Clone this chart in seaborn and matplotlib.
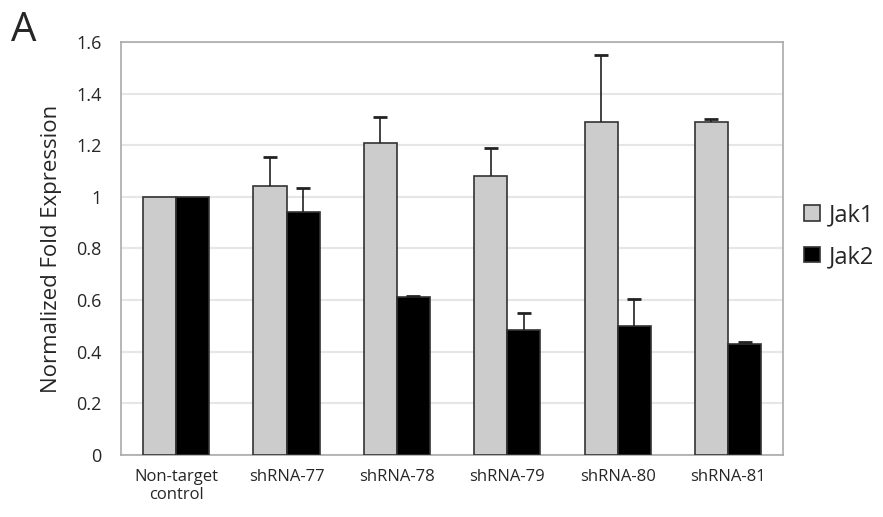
import pandas as pd
import matplotlib
matplotlib.use('Agg')
import matplotlib.pyplot as plt
import seaborn as sns

# Data
groups = ['Non-target\ncontrol', 'shRNA-77', 'shRNA-78', 'shRNA-79', 'shRNA-80', 'shRNA-81']
jak1 = [1.00, 1.04, 1.21, 1.08, 1.29, 1.29]
jak1_err = [0.0, 0.115, 0.10, 0.11, 0.26, 0.01]
jak2 = [1.00, 0.94, 0.61, 0.485, 0.50, 0.43]
jak2_err = [0.0, 0.095, 0.006, 0.065, 0.105, 0.008]

df = pd.DataFrame({
    'group': groups * 2,
    'gene': ['Jak1'] * len(groups) + ['Jak2'] * len(groups),
    'value': jak1 + jak2,
    'err': jak1_err + jak2_err,
})

sns.set_style('white')
plt.rcParams['font.family'] = ['Open Sans', 'DejaVu Sans']

fig = plt.figure(figsize=(8.83, 5.17), dpi=100)
ax = fig.add_axes([0.137, 0.12, 0.75, 0.799])

sns.barplot(data=df, x='group', y='value', hue='gene', palette={'Jak1': '#cccccc', 'Jak2': '#000000'},
            width=0.6, edgecolor='#333333', linewidth=1.2, errorbar=None, ax=ax, zorder=3)

# one-sided error bars on top of each bar (upper cap only)
bars = [p for p in ax.patches if p.get_height() > 0][:len(df)]
for bar, err in zip(bars, df['err']):
    if err <= 0:
        continue
    xc = bar.get_x() + bar.get_width() / 2
    top = bar.get_height()
    _, caps, _ = ax.errorbar(xc, top, yerr=[[0], [err]], fmt='none', ecolor='#222222',
                             elinewidth=1.2, capsize=5, capthick=2, zorder=4)
    caps[0].set_visible(False)

ax.set_xlim(-0.5, 5.5)
ax.set_ylim(0, 1.6)
ax.set_yticks([0, 0.2, 0.4, 0.6, 0.8, 1.0, 1.2, 1.4, 1.6])
ax.set_yticklabels(['0', '0.2', '0.4', '0.6', '0.8', '1', '1.2', '1.4', '1.6'], fontsize=13)
ax.yaxis.grid(True, color='#e6e6e6', linewidth=1.5, zorder=0)
ax.set_axisbelow(True)
ax.tick_params(axis='x', labelsize=12, length=0, pad=10)
ax.tick_params(axis='y', length=0, pad=14)
ax.set_xlabel('')
ax.set_ylabel('Normalized Fold Expression', fontsize=16, labelpad=10)
for s in ax.spines.values():
    s.set_color('#aaaaaa')
    s.set_linewidth(1.2)

leg = ax.legend(loc='center left', bbox_to_anchor=(1.0, 0.53), frameon=False, fontsize=17,
                handlelength=0.65, handleheight=0.65, handletextpad=0.4, labelspacing=0.75)

fig.text(0.012, 0.92, 'A', fontsize=29)

fig.savefig('out.png', dpi=100)
